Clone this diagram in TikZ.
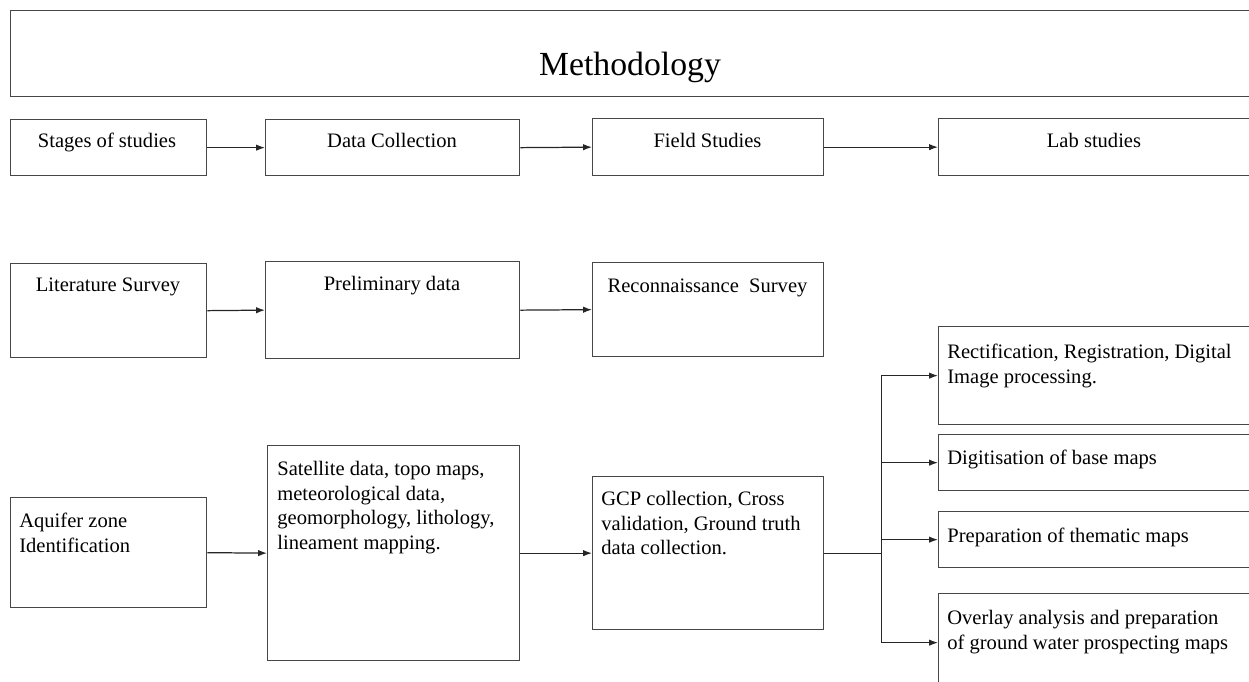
\documentclass[tikz,border=0pt]{standalone}
\usepackage{fontspec}
\setmainfont{Liberation Serif}
\usetikzlibrary{arrows.meta}

\def\unitpx{0.02cm} % one pixel of the layout
\tikzset{
	box/.style={draw=black!72, line width=0.75pt, rectangle, inner sep=0pt, anchor=north west},
	txt/.style={font=\fontsize{11.7}{14.05}\selectfont, inner sep=0pt, align=left},
	line/.style={draw=black!85, line width=0.7pt},
	link/.style={line, -{Latex[length=5pt,width=3.6pt]}},
}

\begin{document}
\begin{tikzpicture}[x=0.02cm, y=-0.02cm]
		\useasboundingbox (0,0) rectangle (1249,682);
		\clip (0,0) rectangle (1249,682);
		
		% Title
		\node[box, minimum width=1240*\unitpx, minimum height=86*\unitpx] (method) at (10,10) {};
		\node[font=\fontsize{19.2}{23}\selectfont, inner sep=0pt, anchor=base] (t-method) at (630,76) {Methodology};
		
		% First row: stages
		\node[box, minimum width=196*\unitpx, minimum height=56*\unitpx] (stages) at (10,119) {};
		\node[box, minimum width=254*\unitpx, minimum height=56*\unitpx] (datacol) at (265,119) {};
		\node[box, minimum width=231*\unitpx, minimum height=57*\unitpx] (field) at (592,118) {};
		\node[box, minimum width=312*\unitpx, minimum height=57*\unitpx] (lab) at (938,118) {};
		\node[txt, anchor=base] (t-stages) at (107,148) {Stages\ of studies};
		\node[txt, anchor=base] (t-datacol) at (392,148) {Data Collection};
		\node[txt, anchor=base] (t-field) at (707.5,148) {Field Studies};
		\node[txt, anchor=base] (t-lab) at (1094,148) {Lab studies};
		
		% Second row
		\node[box, minimum width=196*\unitpx, minimum height=94*\unitpx] (lit) at (10,263) {};
		\node[box, minimum width=254*\unitpx, minimum height=97*\unitpx] (prelim) at (265,261) {};
		\node[box, minimum width=231*\unitpx, minimum height=94*\unitpx] (recon) at (592,262) {};
		\node[txt, anchor=base] (t-lit) at (108,292) {Literature Survey};
		\node[txt, anchor=base] (t-prelim) at (392,291) {Preliminary data};
		\node[txt, anchor=base] (t-recon) at (707.5,293) {Reconnaissance\ \ Survey};
		
		% Third row
		\node[box, minimum width=196*\unitpx, minimum height=110*\unitpx] (aquifer) at (10,497) {};
		\node[box, minimum width=252*\unitpx, minimum height=215*\unitpx] (sat) at (267,445) {};
		\node[box, minimum width=231*\unitpx, minimum height=153*\unitpx] (gcp) at (592,476) {};
		\node[txt, anchor=north west] (t-aquifer) at (19,513) {Aquifer zone\\Identification};
		\node[txt, anchor=north west] (t-sat) at (277,461) {Satellite data, topo maps,\\meteorological data,\\geomorphology, lithology,\\lineament mapping.};
		\node[txt, anchor=north west] (t-gcp) at (601,491) {GCP collection, Cross\\validation, Ground truth\\data collection.};
		
		% Lab work
		\node[box, minimum width=312*\unitpx, minimum height=98*\unitpx] (rect) at (938,326) {};
		\node[box, minimum width=312*\unitpx, minimum height=56*\unitpx] (digit) at (938,434) {};
		\node[box, minimum width=312*\unitpx, minimum height=56*\unitpx] (prep) at (938,511) {};
		\node[box, minimum width=312*\unitpx, minimum height=98*\unitpx] (over) at (938,593) {};
		\node[txt, anchor=north west] (t-rect) at (947,344) {Rectification, Registration,\ Digital\\Image processing.};
		\node[txt, anchor=base west] (t-digit) at (947,465) {Digitisation of base maps};
		\node[txt, anchor=base west] (t-prep) at (947,542) {Preparation of thematic maps};
		\node[txt, anchor=north west] (t-over) at (947,610) {Overlay analysis and preparation\\of ground water prospecting maps};
		
		% Arrows along the rows
		\draw[link] (stages.east) -- (datacol.west);
		\draw[link] (datacol.east) -- (field.west);
		\draw[link] (field.east) -- (lab.west);
		\draw[link] (lit.east) -- (prelim.west);
		\draw[link] (prelim.east) -- (recon.west);
		\draw[link] (aquifer.east) -- (sat.west);
		\draw[link] (sat.east) -- (gcp.west);
		
		% Branch to the lab work
		\draw[line] (gcp.east) -- ++(57,0) coordinate (split);
		\draw[line] (split |- rect.west) -- (split |- over.west);
		\foreach \b in {rect, digit, prep, over} {
			\draw[link] (split |- \b.west) -- (\b.west);
		}
	\end{tikzpicture}
\end{document}
